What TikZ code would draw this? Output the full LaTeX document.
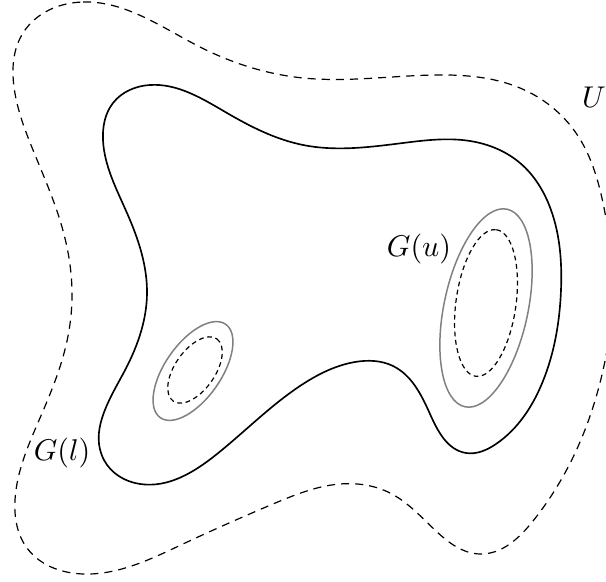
\documentclass[tikz,border=0pt]{standalone}
\usetikzlibrary{hobby}
\begin{document}
\begin{tikzpicture}[x=0.3333pt,y=-0.3333pt,
  outerline/.style={dash pattern=on 2.7pt off 2pt,line width=0.4pt,black},
  levelline/.style={line width=0.55pt,black},
  grayline/.style={line width=0.5pt,gray},
  innerdash/.style={dash pattern=on 1.6pt off 1.2pt,line width=0.4pt,black},
  lbl/.style={inner sep=0pt}]
\clip (0,0) rectangle (606,582);
% outer set U
\draw[outerline,use Hobby shortcut,closed=true]
 (83,2) .. (200,47) .. (303,78) .. (436,75) .. (520,88) .. (576,133)
 .. (605,213) .. (613,287) .. (605,361) .. (576,451) .. (533,521)
 .. (480,554) .. (436,531) .. (390,493) .. (340,484) .. (273,504)
 .. (183,544) .. (90,574) .. (27,548) .. (15,500) .. (40,418)
 .. (67,341) .. (72,291) .. (62,227) .. (33,150) .. (14,87) .. (23,33);
% level set G(l)
\draw[levelline,use Hobby shortcut,closed=true]
 (150,85) .. (227,113) .. (303,145) .. (403,143) .. (470,141) .. (520,163)
 .. (551,210) .. (561,290) .. (543,381) .. (496,444) .. (466,453)
 .. (430,414) .. (393,366) .. (355,362) .. (303,384) .. (217,454)
 .. (140,484) .. (104,460) .. (123,374) .. (147,294) .. (127,213)
 .. (103,140) .. (113,103);
% G(u) components
\draw[grayline] (193,371) ellipse [x radius=57, y radius=28, rotate=55];
\draw[innerdash] (195,370) ellipse [x radius=38, y radius=20, rotate=55];
\draw[grayline] (486,308) ellipse [x radius=101, y radius=42, rotate=78];
\draw[innerdash] (486,303) ellipse [x radius=74, y radius=30, rotate=82];
% labels
\node[lbl] (labU) at (594,97) {$U$};
\node[lbl] (labGu) at (419,249) {$G(u)$};
\node[lbl] (labGl) at (62,453) {$G(l)$};
\end{tikzpicture}
\end{document}
